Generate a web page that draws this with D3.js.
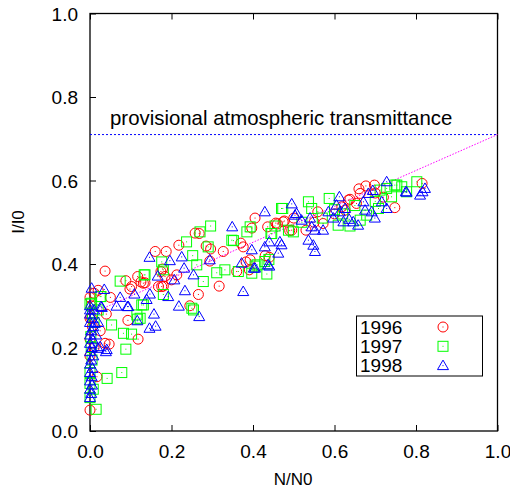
<!DOCTYPE html>
<html><head><meta charset="utf-8">
<script src="https://cdn.jsdelivr.net/npm/d3@7"></script>
<style>body{margin:0;background:#fff}svg{display:block}text{font-family:"Liberation Sans",Arial,sans-serif}</style>
</head><body><svg id="c" width="510" height="492"></svg>
<script>
const xTicks = [0, 0.2, 0.4, 0.6, 0.8, 1.0];
const yTicks = [0, 0.2, 0.4, 0.6, 0.8, 1.0];
const seriesNames = ["1996", "1997", "1998"];
const transmittance = 0.71;
const fitLine = [[0, 0.28], [1, 0.71]];

const data1996 = [
[0.0,0.05],[0.017,0.13],[0.037,0.21],[0.047,0.208],[0.118,0.22],[0.093,0.265],[0.04,0.28],[0.037,0.383],
[0.218,0.445],[0.16,0.43],[0.187,0.43],[0.117,0.37],[0.088,0.36],[0.098,0.34],[0.125,0.357],[0.135,0.355],
[0.178,0.388],[0.18,0.347],[0.01,0.33],[0.02,0.337],[0.0,0.27],[0.004,0.27],[0.245,0.30],[0.258,0.474],
[0.268,0.473],[0.296,0.436],[0.327,0.43],[0.376,0.441],[0.37,0.45],[0.405,0.51],[0.397,0.486],[0.36,0.382],
[0.383,0.405],[0.391,0.386],[0.317,0.347],[0.266,0.327],[0.43,0.42],[0.456,0.498],[0.477,0.503],[0.49,0.48],
[0.5,0.51],[0.294,0.407],[0.677,0.587],[0.698,0.589],[0.663,0.569],[0.748,0.535],[0.634,0.553],[0.572,0.497],
[0.53,0.481],[0.559,0.525],[0.495,0.481],[0.618,0.537],[0.654,0.545],[0.815,0.593],[0.638,0.555],[0.626,0.529],
[0.474,0.501],[0.436,0.489],[0.46,0.496],[0.393,0.41],[0.184,0.37],[0.102,0.346],[0.131,0.354],[0.176,0.346],
[0.2,0.362],[0.213,0.374],[0.168,0.346],[0.0,0.32],[0.174,0.382],[0.0,0.22],[0.006,0.25],[0.003,0.30],
[0.0,0.18],[0.01,0.2],[0.6,0.52],[0.55,0.5],[0.7,0.57],[0.66,0.58],[0.72,0.56],[0.025,0.24],[0.05,0.32],
[0.285,0.443],[0.44,0.416]
];
const data1997 = [
[0.015,0.052],[0.042,0.126],[0.078,0.14],[0.088,0.196],[0.082,0.234],[0.102,0.232],[0.053,0.254],[0.131,0.302],
[0.115,0.278],[0.074,0.359],[0.237,0.453],[0.176,0.405],[0.133,0.374],[0.127,0.302],[0.117,0.268],[0.027,0.322],
[0.0,0.304],[0.002,0.226],[0.0,0.114],[0.25,0.294],[0.18,0.386],[0.47,0.533],[0.296,0.491],[0.393,0.489],
[0.385,0.477],[0.352,0.456],[0.454,0.491],[0.444,0.473],[0.29,0.441],[0.252,0.42],[0.311,0.379],[0.331,0.386],
[0.364,0.382],[0.397,0.378],[0.41,0.398],[0.439,0.411],[0.434,0.376],[0.278,0.358],[0.262,0.398],[0.536,0.549],
[0.587,0.557],[0.753,0.589],[0.74,0.561],[0.712,0.577],[0.609,0.493],[0.638,0.491],[0.679,0.517],[0.499,0.477],
[0.544,0.533],[0.708,0.533],[0.663,0.505],[0.802,0.597],[0.777,0.573],[0.748,0.589],[0.473,0.533],[0.487,0.481],
[0.728,0.581],[0.765,0.585],[0.27,0.477],[0.348,0.457],[0.446,0.473],[0.18,0.327],[0.123,0.27],[0.135,0.374],
[0.004,0.306],[0.025,0.322],[0.429,0.406],[0.405,0.395],[0.254,0.29],[0.0,0.14],[0.005,0.17],[0.003,0.2],
[0.01,0.26],[0.006,0.28],[0.02,0.29],[0.6,0.53],[0.65,0.54],[0.57,0.51],[0.52,0.5],[0.7,0.55],[0.62,0.52],
[0.0,0.08],[0.008,0.1]
];
const data1998 = [
[0.029,0.296],[0.065,0.299],[0.094,0.298],[0.157,0.28],[0.146,0.246],[0.161,0.251],[0.116,0.264],[0.041,0.195],
[0.02,0.198],[0.012,0.258],[0.146,0.416],[0.035,0.339],[0.074,0.32],[0.109,0.328],[0.147,0.328],[0.139,0.315],
[0.092,0.298],[0.027,0.298],[0.192,0.322],[0.218,0.299],[0.233,0.336],[0.166,0.371],[0.207,0.362],[0.196,0.408],
[0.225,0.417],[0.231,0.39],[0.039,0.19],[0.025,0.202],[0.004,0.342],[0.0,0.29],[0.429,0.525],[0.495,0.544],
[0.503,0.517],[0.349,0.489],[0.44,0.453],[0.466,0.453],[0.462,0.426],[0.429,0.441],[0.397,0.434],[0.372,0.402],
[0.405,0.39],[0.437,0.398],[0.376,0.334],[0.268,0.274],[0.294,0.41],[0.254,0.374],[0.402,0.39],[0.44,0.395],
[0.507,0.521],[0.519,0.505],[0.54,0.51],[0.544,0.489],[0.552,0.481],[0.536,0.457],[0.548,0.445],[0.552,0.43],
[0.572,0.481],[0.612,0.561],[0.605,0.541],[0.597,0.51],[0.613,0.525],[0.626,0.533],[0.636,0.507],[0.646,0.501],
[0.658,0.493],[0.622,0.501],[0.585,0.525],[0.671,0.549],[0.683,0.569],[0.694,0.576],[0.675,0.529],[0.691,0.525],
[0.699,0.51],[0.716,0.549],[0.728,0.533],[0.728,0.597],[0.775,0.573],[0.777,0.572],[0.81,0.565],[0.816,0.573],
[0.822,0.581],[0.47,0.446],
[0,0.08],[0.003,0.09],[0,0.1],[0.005,0.11],[0,0.12],[0.004,0.13],[0,0.14],[0.006,0.15],[0,0.16],[0.003,0.17],
[0.008,0.18],[0,0.19],[0.004,0.2],[0,0.21],[0.006,0.22],[0,0.23],[0.003,0.24],[0.008,0.25],[0,0.26],[0.005,0.27],
[0,0.28],[0.01,0.29],[0,0.3],[0.02,0.26],[0.015,0.23]
];

const svg = d3.select("#c");
const L = 90, R = 497.5, T = 13.5, B = 431;
const x = d3.scaleLinear().domain([0, 1]).range([L, R]);
const y = d3.scaleLinear().domain([0, 1]).range([B, T]);
const fmt = d3.format(".1f");

// axes
const gx = svg.append("g").attr("transform", `translate(0,${B})`)
  .call(d3.axisBottom(x).tickValues(xTicks).tickFormat(fmt).tickSizeInner(-6).tickSizeOuter(0).tickPadding(14));
const gxt = svg.append("g").attr("transform", `translate(0,${T})`)
  .call(d3.axisTop(x).tickValues(xTicks).tickFormat("").tickSizeInner(-6).tickSizeOuter(0));
const gy = svg.append("g").attr("transform", `translate(${L},0)`)
  .call(d3.axisLeft(y).tickValues(yTicks).tickFormat(fmt).tickSizeInner(-6).tickSizeOuter(0).tickPadding(12));
[gx, gxt, gy].forEach(g => {
  g.select(".domain").remove();
  g.selectAll("line").attr("stroke", "#000").attr("stroke-width", 1);
  g.selectAll("text").attr("font-size", 19).attr("fill", "#000").style("font-family", '"Liberation Sans",Arial,sans-serif');
});
gy.selectAll("text").attr("dy", "0.36em");

// frame
svg.append("rect").attr("x", L).attr("y", T).attr("width", R - L).attr("height", B - T)
  .attr("fill", "none").attr("stroke", "#000").attr("stroke-width", 1.3);

// axis titles
svg.append("text").attr("x", 293).attr("y", 485).attr("text-anchor", "middle").attr("font-size", 17).text("N/N0");
svg.append("text").attr("transform", "translate(24,222) rotate(-90)").attr("text-anchor", "middle").attr("font-size", 17).text("I/I0");

// reference lines
svg.append("line").attr("x1", x(0)).attr("x2", x(1)).attr("y1", y(transmittance)).attr("y2", y(transmittance))
  .attr("stroke", "#0000ff").attr("stroke-width", 1).attr("stroke-dasharray", "2,2");
svg.append("line").attr("x1", x(fitLine[0][0])).attr("y1", y(fitLine[0][1])).attr("x2", x(fitLine[1][0])).attr("y2", y(fitLine[1][1]))
  .attr("stroke", "#ff00ff").attr("stroke-width", 1).attr("stroke-dasharray", "1.5,1.5");
svg.append("text").attr("x", 110).attr("y", 125).attr("font-size", 20.4).text("provisional atmospheric transmittance");

// markers
const colors = ["#ff0000", "#00ff00", "#0000ff"];
function marker(g, type, cx, cy, col) {
  if (type === 0) g.append("circle").attr("cx", cx).attr("cy", cy).attr("r", 5);
  else if (type === 1) g.append("rect").attr("x", cx - 5).attr("y", cy - 5).attr("width", 10).attr("height", 10);
  else g.append("path").attr("d", `M${cx - 5.5},${cy + 4}L${cx + 5.5},${cy + 4}L${cx},${cy - 5.5}Z`);
  g.append("rect").attr("x", cx - 0.5).attr("y", cy - 0.5).attr("width", 1).attr("height", 1).attr("fill", col).attr("stroke", "none");
}
[data1996, data1997, data1998].forEach((ds, i) => {
  const g = svg.append("g").attr("fill", "none").attr("stroke", colors[i]).attr("stroke-width", 1);
  ds.forEach(d => marker(g, i, x(d[0]), y(d[1]), colors[i]));
});

// legend
svg.append("rect").attr("x", 356.5).attr("y", 316).attr("width", 126).attr("height", 60)
  .attr("fill", "#fff").attr("stroke", "#000").attr("stroke-width", 1);
seriesNames.forEach((n, i) => {
  const yy = 327 + i * 19.3;
  svg.append("text").attr("x", 360).attr("y", yy + 6.5).attr("font-size", 19).text(n);
  const g = svg.append("g").attr("fill", "none").attr("stroke", colors[i]).attr("stroke-width", 1);
  marker(g, i, 443, yy, colors[i]);
});
</script></body></html>
